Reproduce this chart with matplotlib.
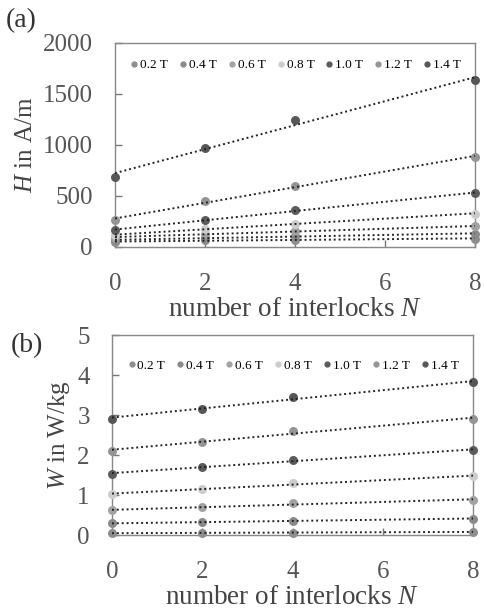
import numpy as np
import matplotlib
matplotlib.use('Agg')
import matplotlib.pyplot as plt
from matplotlib.lines import Line2D

plt.rcParams['font.family'] = ['Liberation Serif', 'DejaVu Serif']
plt.rcParams['mathtext.fontset'] = 'custom'
plt.rcParams['mathtext.it'] = 'Liberation Serif:italic'
plt.rcParams['mathtext.rm'] = 'Liberation Serif'

N = [0, 2, 4, 8]
labels = ['0.2 T', '0.4 T', '0.6 T', '0.8 T', '1.0 T', '1.2 T', '1.4 T']
colors = ['#8e8e8e', '#8a8a8a', '#a2a2a2', '#cccccc', '#5c5c5c', '#959595', '#575757']

# field strength H in A/m
H_02 = [49, 65, 72, 82]
H_04 = [65, 92, 105, 131]
H_06 = [92, 130, 154, 203]
H_08 = [114, 180, 229, 327]
H_10 = [163, 268, 359, 529]
H_12 = [261, 448, 601, 882]
H_14 = [686, 974, 1248, 1634]

# losses W in W/kg
W_02 = [0.05, 0.05, 0.06, 0.08]
W_04 = [0.29, 0.32, 0.36, 0.41]
W_06 = [0.62, 0.69, 0.79, 0.88]
W_08 = [1.02, 1.15, 1.29, 1.47]
W_10 = [1.52, 1.71, 1.88, 2.12]
W_12 = [2.10, 2.33, 2.60, 2.90]
W_14 = [2.91, 3.16, 3.45, 3.82]

H_all = [H_02, H_04, H_06, H_08, H_10, H_12, H_14]
W_all = [W_02, W_04, W_06, W_08, W_10, W_12, W_14]


def draw_panel(ax, series, ymax, ystep, ylabel, leg_y):
    x = np.array(N, dtype=float)
    for vals, c in zip(series, colors):
        ax.scatter(x, vals, s=42, color=c, zorder=3, clip_on=False, linewidths=0)
    for vals in series:
        k, d = np.polyfit(x, vals, 1)
        xx = np.array([0.0, 8.0])
        ax.plot(xx, k * xx + d, color='#222222', lw=1.4, ls=(0, (1, 1.5)), zorder=4)
    ax.set_xlim(0, 8)
    ax.set_ylim(0, ymax)
    ax.set_xticks([0, 2, 4, 6, 8])
    ax.set_yticks(np.arange(0, ymax + ystep / 2, ystep))
    ax.tick_params(direction='in', length=5, width=1, color='#777777',
                   labelsize=18)
    ax.tick_params(axis='x', pad=19)
    ax.tick_params(axis='y', pad=16)
    for sp in ax.spines.values():
        sp.set_color('#888888')
        sp.set_linewidth(1.0)
    ax.set_xlabel('number of interlocks $N$', fontsize=19.5, labelpad=1, color='#444444')
    ax.set_ylabel(ylabel, fontsize=18, color='#444444', labelpad=4)
    for t in ax.get_xticklabels() + ax.get_yticklabels():
        t.set_color('#555555')
    handles = [Line2D([], [], marker='o', ls='none', color=c, markersize=3.5)
               for c in colors]
    ax.legend(handles, labels, loc='upper center', ncol=7, frameon=False,
              fontsize=9.5, handletextpad=0.05, columnspacing=0.75,
              handlelength=0.8, bbox_to_anchor=(0.5, leg_y))


fig = plt.figure(figsize=(4.84, 6.13), dpi=100)
ax_a = fig.add_axes([0.2376, 0.5971, 0.7438, 0.3328])
ax_b = fig.add_axes([0.2314, 0.1272, 0.7459, 0.3263])

draw_panel(ax_a, H_all, 2000, 500, '$H$ in A/m', 0.98)
draw_panel(ax_b, W_all, 5, 1, '$W$ in W/kg', 0.935)

fig.text(0.012, 0.966, '(a)', fontsize=20, color='#333333', va='center')
fig.text(0.022, 0.437, '(b)', fontsize=20, color='#333333', va='center')

fig.savefig('out.png', dpi=100)
